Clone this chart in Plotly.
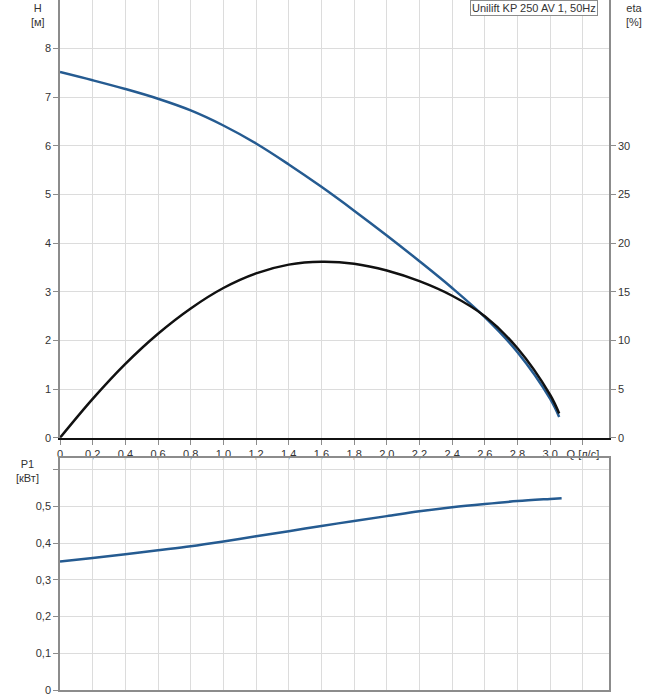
import plotly.graph_objects as go

# Data
q = [0.0, 0.2, 0.4, 0.6, 0.8, 1.0, 1.2, 1.4, 1.6, 1.8, 2.0, 2.2, 2.4, 2.6, 2.8, 3.0, 3.055]
head = [7.52, 7.35, 7.17, 6.97, 6.73, 6.42, 6.05, 5.62, 5.16, 4.67, 4.16, 3.63, 3.08, 2.48, 1.76, 0.80, 0.43]
eta = [0.0, 4.0, 7.6, 10.7, 13.3, 15.4, 16.9, 17.8, 18.1, 17.9, 17.2, 16.1, 14.6, 12.5, 9.2, 4.4, 2.5]
q_p = [0.0, 0.2, 0.4, 0.6, 0.8, 1.0, 1.2, 1.4, 1.6, 1.8, 2.0, 2.2, 2.4, 2.6, 2.8, 3.0, 3.07]
p1 = [0.350, 0.360, 0.370, 0.381, 0.392, 0.405, 0.419, 0.433, 0.447, 0.461, 0.474, 0.487, 0.498, 0.507, 0.515, 0.521, 0.523]

q_ticks = [0.0, 0.2, 0.4, 0.6, 0.8, 1.0, 1.2, 1.4, 1.6, 1.8, 2.0, 2.2, 2.4, 2.6, 2.8, 3.0, 3.2]
q_ticktext = ["0", "0,2", "0,4", "0,6", "0,8", "1,0", "1,2", "1,4", "1,6", "1,8", "2,0",
              "2,2", "2,4", "2,6", "2,8", "3,0", "Q [л/с]"]
h_ticks = [0, 1, 2, 3, 4, 5, 6, 7, 8]
eta_ticks = [0, 5, 10, 15, 20, 25, 30]
p_ticks = [0, 0.1, 0.2, 0.3, 0.4, 0.5, 0.6]
p_ticktext = ["0", "0,1", "0,2", "0,3", "0,4", "0,5", ""]

BLUE = "#255b91"
GRID = "#dcdcdc"
AXIS = "#8c8c8c"
TXT = "#333333"
FONT = "Liberation Sans, Arial, sans-serif"

fig = go.Figure()
fig.add_trace(go.Scatter(x=q, y=head, mode="lines", line=dict(color=BLUE, width=2.5, shape="spline"),
                         xaxis="x", yaxis="y", showlegend=False))
fig.add_trace(go.Scatter(x=q, y=eta, mode="lines", line=dict(color="#111111", width=2.5, shape="spline"),
                         xaxis="x", yaxis="y2", showlegend=False))
fig.add_trace(go.Scatter(x=q_p, y=p1, mode="lines", line=dict(color=BLUE, width=2.5, shape="spline"),
                         xaxis="x2", yaxis="y3", showlegend=False))

H_TOP = 0.3655
B_TOP = 0.336
XMAX = 3.36

fig.update_layout(
    width=658, height=700,
    margin=dict(l=60, r=49, t=0, b=10),
    paper_bgcolor="white", plot_bgcolor="white",
    font=dict(family=FONT, size=11, color=TXT),
    showlegend=False,
    xaxis=dict(domain=[0, 1], range=[0, XMAX], tickvals=q_ticks, ticktext=q_ticktext,
               showgrid=True, gridcolor=GRID, showline=True, linecolor="#111111", linewidth=1.5,
               ticks="outside", ticklen=5, tickcolor=AXIS, zeroline=False, anchor="y",
               tickfont=dict(size=11, color=TXT), automargin=False),
    yaxis=dict(domain=[H_TOP, 1], range=[0, 9], tickvals=h_ticks, showgrid=True, gridcolor=GRID,
               showline=True, linecolor=AXIS, linewidth=1.5, ticks="outside", ticklen=5,
               tickcolor=AXIS, zeroline=False, anchor="x", automargin=False),
    yaxis2=dict(overlaying="y", side="right", range=[0, 45], tickvals=eta_ticks, showgrid=False,
                showline=True, linecolor=AXIS, linewidth=1.5, ticks="outside", ticklen=5,
                tickcolor=AXIS, zeroline=False, anchor="x", automargin=False),
    xaxis2=dict(domain=[0, 1], range=[0, XMAX], tickvals=q_ticks, showticklabels=False,
                showgrid=True, gridcolor=GRID, showline=True, linecolor=AXIS, linewidth=1.5,
                mirror=True, zeroline=False, anchor="y3", ticks="", automargin=False),
    yaxis3=dict(domain=[0, B_TOP], range=[0, 0.632], tickvals=p_ticks, ticktext=p_ticktext,
                showgrid=True, gridcolor=GRID, showline=True, linecolor=AXIS, linewidth=1.5,
                mirror=True, ticks="outside", ticklen=5, tickcolor=AXIS, zeroline=False, anchor="x2",
                automargin=False),
)

fig.add_annotation(xref="paper", yref="paper", x=0.98, y=1.0, xanchor="right", yanchor="top",
                   text="Unilift KP 250 AV 1, 50Hz", showarrow=False, bgcolor="white",
                   bordercolor="#8c8c8c", borderwidth=1, borderpad=1,
                   font=dict(size=11, color=TXT))

fig.add_annotation(xref="paper", yref="paper", x=-0.04, y=1.0, xanchor="center", yanchor="top",
                   text="H<br>[м]", showarrow=False, align="center", font=dict(size=11, color=TXT))
fig.add_annotation(xref="paper", yref="paper", x=1.045, y=1.0, xanchor="center", yanchor="top",
                   text="eta<br>[%]", showarrow=False, align="center", font=dict(size=11, color=TXT))
fig.add_annotation(xref="paper", yref="paper", x=-0.06, y=(690 - 456) / 690, xanchor="center", yanchor="top",
                   text="P1<br>[кВт]", showarrow=False, align="center", font=dict(size=11, color=TXT))

fig.write_html("out.html", config={"displayModeBar": False},
               post_script="document.body.style.margin='0';document.body.style.padding='0';")
